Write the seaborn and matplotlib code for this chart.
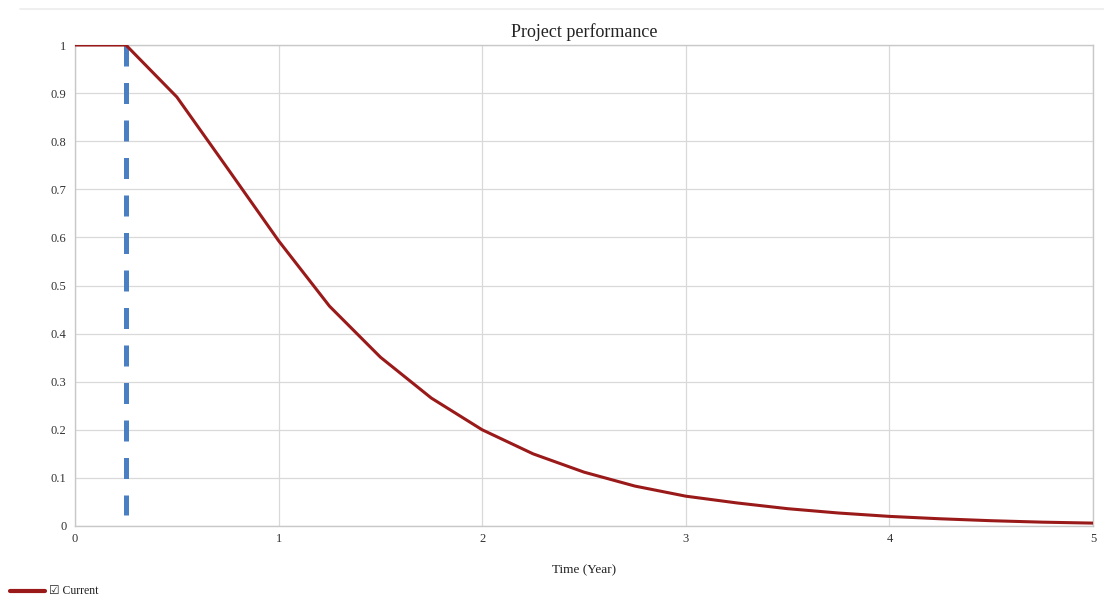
import matplotlib
matplotlib.use("Agg")
import matplotlib.pyplot as plt
import seaborn as sns
import pandas as pd
from matplotlib.lines import Line2D

# Data
time_years = [0, 0.25, 0.5, 0.75, 1.0, 1.25, 1.5, 1.75, 2.0, 2.25, 2.5, 2.75, 3.0,
              3.25, 3.5, 3.75, 4.0, 4.25, 4.5, 4.75, 5.0]
performance = [1.0, 1.0, 0.892, 0.743, 0.593, 0.457, 0.351, 0.266, 0.200, 0.150,
               0.112, 0.083, 0.062, 0.048, 0.036, 0.027, 0.020, 0.015, 0.011, 0.008, 0.006]
event_time = 0.25
event_span = [1.0, 0.022]
x_ticks = [0, 1, 2, 3, 4, 5]
y_ticks = [0, 0.1, 0.2, 0.3, 0.4, 0.5, 0.6, 0.7, 0.8, 0.9, 1]
y_tick_labels = ["0", "0.1", "0.2", "0.3", "0.4", "0.5", "0.6", "0.7", "0.8", "0.9", "1"]

sns.set_style("white")
plt.rcParams['font.family'] = ['Liberation Serif', 'DejaVu Sans']

df = pd.DataFrame({"Time": time_years, "Performance": performance})

fig = plt.figure(figsize=(11.04, 5.98), dpi=100)
ax = fig.add_axes([75/1104, 1-526/598, (1093-75)/1104, (526-45)/598])

ax.plot([event_time, event_time], event_span, color="#4a7fc4", lw=3.6,
        dashes=(4.2, 3.3), solid_capstyle="butt", dash_capstyle="butt", zorder=3)
sns.lineplot(data=df, x="Time", y="Performance", ax=ax, color="#9a1a1a", lw=2.2, zorder=4)

ax.set_xlim(0, 5)
ax.set_ylim(0, 1)
ax.set_xticks(x_ticks)
ax.set_xticklabels([str(t) for t in x_ticks])
ax.set_yticks(y_ticks)
ax.set_yticklabels(y_tick_labels)
ax.tick_params(axis="both", length=0, labelsize=9, colors="#333333")
ax.tick_params(axis="x", pad=5)
ax.tick_params(axis="y", pad=6)
ax.grid(True, color="#d9d9d9", lw=0.9)
for s in ax.spines.values():
    s.set_color("#c8c8c8")
    s.set_linewidth(1.0)

ax.set_xlabel("Time (Year)", fontsize=9.5, labelpad=14, color="#222222")
ax.set_ylabel("")
ax.set_title("Project performance", fontsize=13, pad=6, color="#222222")

# faint top separator line
fig.add_artist(Line2D([20/1104, 1.0], [1-9/598, 1-9/598], color="#ececec", lw=1.2))

# legend at bottom-left
fig.add_artist(Line2D([10/1104, 45/1104], [1-591/598, 1-591/598], color="#9a1a1a", lw=3))
fig.text(49/1104, 1-591/598, "☑ Current", fontsize=8.5, va="center", ha="left",
         color="#222222", family=['Liberation Serif', 'DejaVu Sans'])

fig.savefig("out.png", dpi=100)
